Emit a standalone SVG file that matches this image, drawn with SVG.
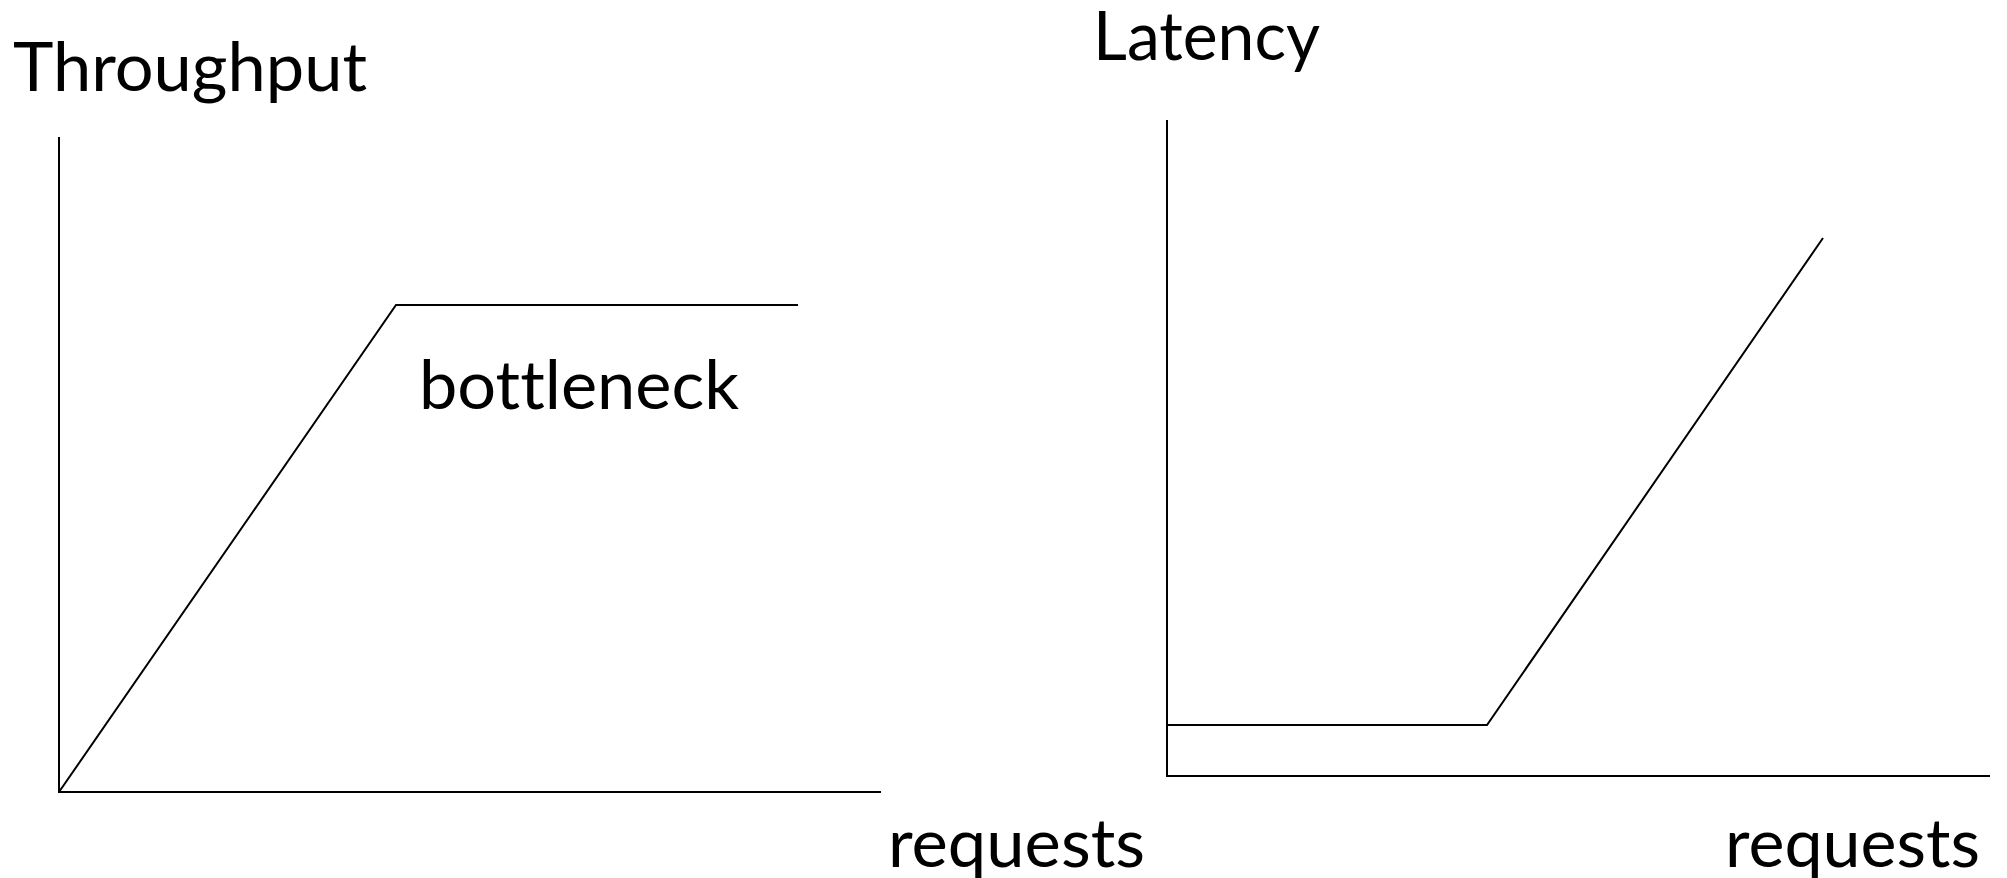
<svg xmlns="http://www.w3.org/2000/svg" width="2007" height="878" viewBox="0 0 2007 878">
<style>
.ln{fill:none;stroke:#000;stroke-width:2;stroke-linejoin:miter}
.t{font-family:Lato,"Liberation Sans",sans-serif;font-size:67px;fill:#000;font-variant-ligatures:none;font-feature-settings:"liga" 0}
</style>
<rect width="2007" height="878" fill="#fff"/>
<g id="throughput-chart">
<text class="t" x="13" y="91" textLength="354" lengthAdjust="spacingAndGlyphs">Throughput</text>
<polyline class="ln" points="59,137 59,792 881,792"/>
<text class="t" x="419" y="409" textLength="320" lengthAdjust="spacingAndGlyphs">bottleneck</text>
<text class="t" x="888" y="867" textLength="257" lengthAdjust="spacingAndGlyphs">requests</text>
</g>
<g id="latency-chart">
<text class="t" x="1093" y="60" textLength="227" lengthAdjust="spacingAndGlyphs">Latency</text>
<polyline class="ln" points="1167,120 1167,776 1990,776"/>
<text class="t" x="1725" y="867" textLength="255" lengthAdjust="spacingAndGlyphs">requests</text>
</g>
<g id="connectors">
<polyline class="ln" points="59,792 396,305 798,305"/>
<polyline class="ln" points="1167,725 1487,725 1823,238"/>
</g>
</svg>
